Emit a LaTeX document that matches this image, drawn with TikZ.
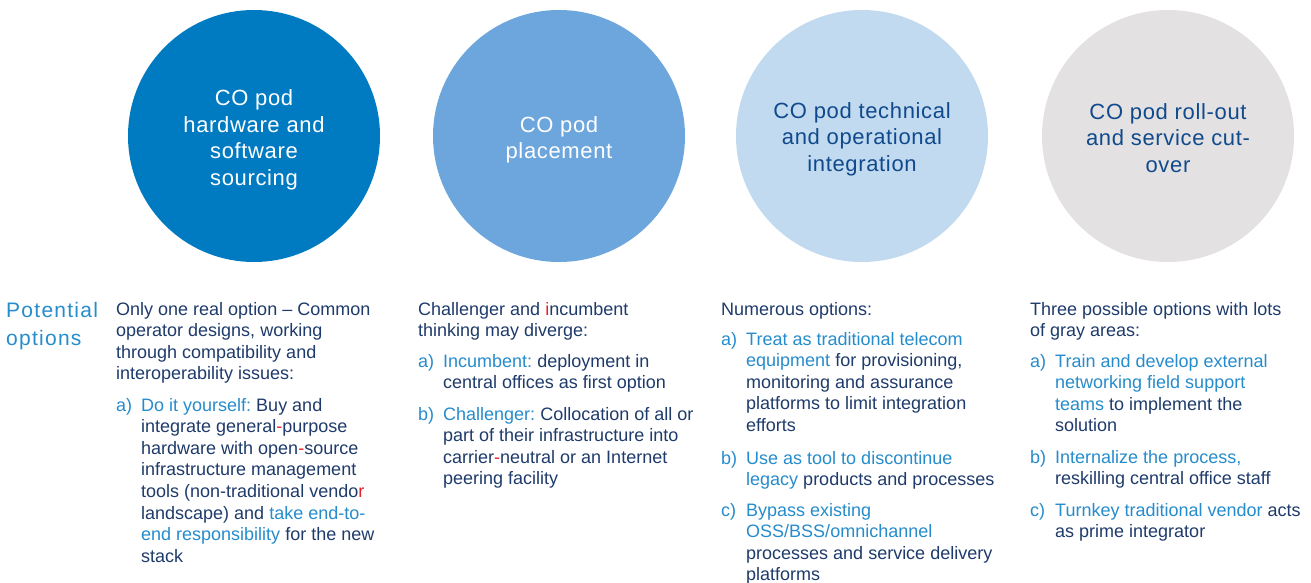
\documentclass[tikz,border=0pt]{standalone}
\usepackage{fontspec}
\setmainfont{Liberation Sans}
\newfontfamily\circfont[LetterSpace=3]{Liberation Sans}
\newfontfamily\labfont[LetterSpace=6]{Liberation Sans}
\definecolor{cA}{RGB}{0,123,194}
\definecolor{cB}{RGB}{109,166,220}
\definecolor{cC}{RGB}{194,218,240}
\definecolor{cD}{RGB}{227,225,226}
\definecolor{navy}{RGB}{31,59,107}
\definecolor{hlc}{RGB}{38,140,204}
\definecolor{ctext}{RGB}{16,74,140}
\definecolor{redc}{RGB}{232,32,40}
\newcommand{\blu}[1]{\textcolor{hlc}{#1}}
\newcommand{\rd}[1]{\textcolor{redc}{#1}}
\newcommand{\tl}[1]{\begin{tabular}[t]{@{}l@{}}#1\end{tabular}}
\frenchspacing
\begin{document}
\begin{tikzpicture}[x=1pt,y=-1pt,
  pod/.style={circle,minimum size=252pt,inner sep=0pt},
  podtext/.style={inner sep=0pt,align=center,
    font=\circfont\fontsize{22}{26.5}\selectfont},
  body/.style={anchor=base west,inner sep=0pt,text=navy,
    font=\fontsize{18}{21.6}\selectfont},
  itemlab/.style={anchor=base west,inner sep=0pt,text=hlc,
    font=\fontsize{18}{21.6}\selectfont},
  rowlab/.style={anchor=base west,inner sep=0pt,text=hlc,
    font=\labfont\fontsize{21}{28}\selectfont}]
\fill[white] (0,0) rectangle (1311,583);
\useasboundingbox (0,0) rectangle (1311,583);

% circles
\node[pod,fill=cA] (p1) at (254,136) {};
\node[pod,fill=cB] (p2) at (559,136) {};
\node[pod,fill=cC] (p3) at (862,136) {};
\node[pod,fill=cD] (p4) at (1168,136) {};
\node[podtext,text=white] (t1) at ([yshift=-4pt]p1.center) {CO pod\\hardware and\\software\\sourcing};
\node[podtext,text=white] (t2) at ([yshift=-4pt]p2.center) {CO pod\\placement};
\node[podtext,text=ctext] (t3) at ([yshift=-3pt]p3.center) {CO pod technical\\and operational\\integration};
\node[podtext,text=ctext] (t4) at ([yshift=-2pt]p4.center) {CO pod roll-out\\and service cut-\\over};

% row label
\node[rowlab] (lab) at (6,317) {\tl{Potential\\options}};

% column 1
\node[body] (c1i) at (116,315) {\tl{Only one real option \textendash{} Common\\operator designs, working\\through compatibility and\\interoperability issues:}};
\node[itemlab] (c1al) at (116,411) {a)};
\node[body] (c1a) at (141,411) {\tl{\blu{Do it yourself:} Buy and\\integrate general\rd{-}purpose\\hardware with open\rd{-}source\\infrastructure management\\tools (non-traditional vendo\rd{r}\\landscape) and \blu{take end-to-}\\\blu{end responsibility} for the new\\stack}};

% column 2
\node[body] (c2i) at (418,315) {\tl{Challenger and \rd{i}ncumbent\\thinking may diverge:}};
\node[itemlab] (c2al) at (418,367) {a)};
\node[body] (c2a) at (443,367) {\tl{\blu{Incumbent:} deployment in\\central offices as first option}};
\node[itemlab] (c2bl) at (418,420) {b)};
\node[body] (c2b) at (443,420) {\tl{\blu{Challenger:} Collocation of all or\\part of their infrastructure into\\carrier\rd{-}neutral or an Internet\\peering facility}};

% column 3
\node[body] (c3i) at (721,315) {Numerous options:};
\node[itemlab] (c3al) at (721,345) {a)};
\node[body] (c3a) at (746,345) {\tl{\blu{Treat as traditional telecom}\\\blu{equipment} for provisioning,\\monitoring and assurance\\platforms to limit integration\\efforts}};
\node[itemlab] (c3bl) at (721,464) {b)};
\node[body] (c3b) at (746,464) {\tl{\blu{Use as tool to discontinue}\\\blu{legacy} products and processes}};
\node[itemlab] (c3cl) at (721,516) {c)};
\node[body] (c3c) at (746,516) {\tl{\blu{Bypass existing}\\\blu{OSS/BSS/omnichannel}\\processes and service delivery\\platforms}};

% column 4
\node[body] (c4i) at (1030,315) {\tl{Three possible options with lots\\of gray areas:}};
\node[itemlab] (c4al) at (1030,367) {a)};
\node[body] (c4a) at (1055,367) {\tl{\blu{Train and develop external}\\\blu{networking field support}\\\blu{teams} to implement the\\solution}};
\node[itemlab] (c4bl) at (1030,463) {b)};
\node[body] (c4b) at (1055,463) {\tl{\blu{Internalize the process,}\\reskilling central office staff}};
\node[itemlab] (c4cl) at (1030,516) {c)};
\node[body] (c4c) at (1055,516) {\tl{\blu{Turnkey traditional vendor} acts\\as prime integrator}};
\end{tikzpicture}
\end{document}
